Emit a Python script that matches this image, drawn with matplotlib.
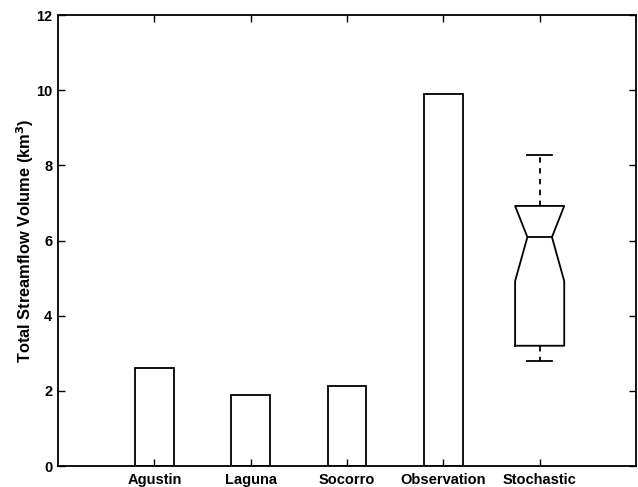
import matplotlib
matplotlib.use("Agg")
import matplotlib.pyplot as plt

categories = ["Agustin", "Laguna", "Socorro", "Observation", "Stochastic"]
bar_values = [2.6, 1.89, 2.13, 9.89]
# Stochastic box statistics
stoch_med = 6.09
stoch_q1 = 3.2
stoch_q3 = 6.92
stoch_cilo = 4.92
stoch_cihi = 6.92
stoch_whislo = 2.79
stoch_whishi = 8.28
y_ticks = [0, 2, 4, 6, 8, 10, 12]

plt.rcParams['font.family'] = ['Liberation Sans', 'DejaVu Sans']
plt.rcParams['font.weight'] = 'bold'
plt.rcParams['mathtext.default'] = 'bf'

fig = plt.figure(figsize=(6.38, 4.87), dpi=100)
ax = fig.add_axes([58/638, 21/487, (636-58)/638, (466-15)/487])

positions = list(range(1, len(categories) + 1))
ax.bar(positions[:len(bar_values)], bar_values, width=0.4, facecolor='white',
       edgecolor='black', linewidth=1.3)

stats = [dict(med=stoch_med, q1=stoch_q1, q3=stoch_q3, cilo=stoch_cilo,
              cihi=stoch_cihi, whislo=stoch_whislo, whishi=stoch_whishi,
              fliers=[])]
ax.bxp(stats, positions=[positions[-1]], widths=0.51, shownotches=True,
       showfliers=False, manage_ticks=False,
       boxprops=dict(color='black', linewidth=1.3),
       whiskerprops=dict(color='black', linewidth=1.3, linestyle=(0, (3, 3))),
       capprops=dict(color='black', linewidth=1.3),
       medianprops=dict(color='black', linewidth=1.3))

ax.set_xlim(0, 6)
ax.set_ylim(0, 12)
ax.set_xticks(positions)
ax.set_xticklabels(categories, fontsize=10.5, fontweight='bold')
ax.set_yticks(y_ticks)
ax.set_yticklabels([str(t) for t in y_ticks], fontsize=10.5, fontweight='bold')
ax.tick_params(direction='in', length=5, width=1, top=True, right=True,
               colors='black')
ax.tick_params(axis='x', pad=5)
ax.tick_params(axis='y', pad=4)
for s in ax.spines.values():
    s.set_linewidth(1.3)
ax.set_ylabel("Total Streamflow Volume (km$^3$)", fontsize=11.8, fontweight='bold',
              labelpad=0)

fig.savefig("out.png", dpi=100)
